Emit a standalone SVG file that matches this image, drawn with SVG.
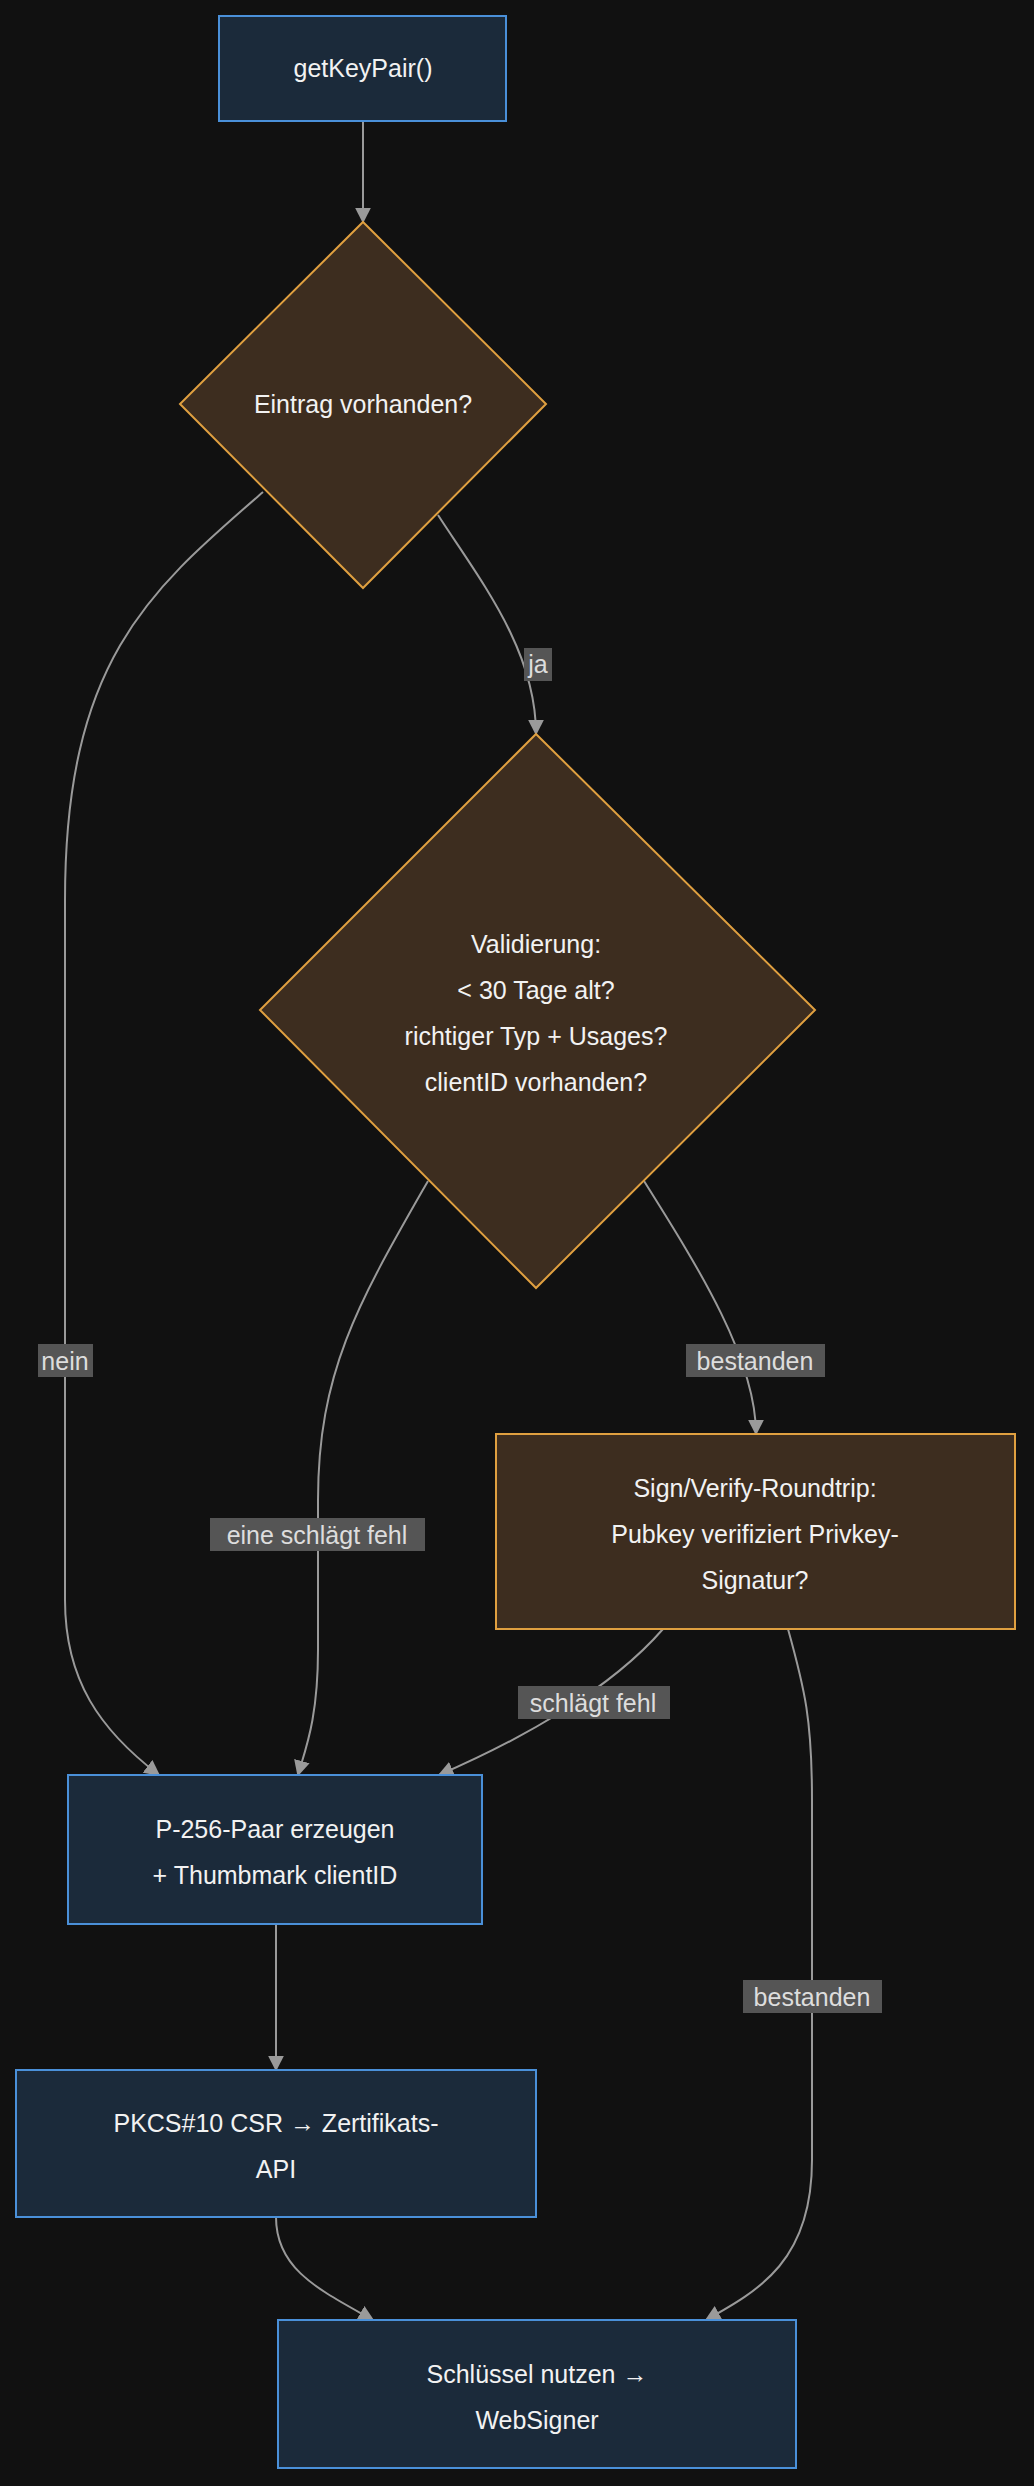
<svg xmlns="http://www.w3.org/2000/svg" width="1034" height="2486" viewBox="0 0 1034 2486">
<style>
.b{fill:#1b2a3a;stroke:#4a90d9;stroke-width:2}
.d{fill:#3d2d1f;stroke:#e0a040;stroke-width:2}
.t{font-family:"Liberation Sans",Arial,sans-serif;font-size:25px;fill:#f2f2f2;text-anchor:middle}
.e{fill:none;stroke:#9a9a9a;stroke-width:2;marker-end:url(#a)}
.lb{fill:#555}
.lt{font-family:"Liberation Sans",Arial,sans-serif;font-size:25px;fill:#ddd;text-anchor:middle}
</style>
<defs><marker id="a" viewBox="0 0 10 10" refX="9" refY="5" markerWidth="8" markerHeight="8" orient="auto-start-reverse"><path d="M0,0L10,5L0,10z" fill="#9a9a9a"/></marker></defs>
<rect width="1034" height="2486" fill="#111"/>
<g id="connectors">
<path class="e" d="M363,121V222"/>
<path class="e" d="M263,492C150,590 65,660 65,900V1600C65,1680 100,1730 159,1775"/>
<path class="e" d="M438,515C480,580 536,650 536,734"/>
<path class="e" d="M428,1181C360,1300 318,1370 318,1500V1650C318,1720 305,1750 298,1775"/>
<path class="e" d="M644,1181C700,1270 756,1360 756,1434"/>
<path class="e" d="M663,1629C610,1690 520,1740 439,1775"/>
<path class="e" d="M788,1629C805,1690 812,1720 812,1800V2160C812,2260 760,2290 706,2320"/>
<path class="e" d="M276,1924V2070"/>
<path class="e" d="M276,2217C276,2270 320,2290 373,2320"/>
<rect class="lb" x="38" y="1344" width="55" height="33"/><text class="lt" x="65" y="1370">nein</text>
<rect class="lb" x="524" y="648" width="28" height="33"/><text class="lt" x="538" y="673">ja</text>
<rect class="lb" x="210" y="1518" width="215" height="33"/><text class="lt" x="317" y="1544">eine schlägt fehl</text>
<rect class="lb" x="686" y="1344" width="139" height="33"/><text class="lt" x="755" y="1370">bestanden</text>
<rect class="lb" x="518" y="1686" width="152" height="33"/><text class="lt" x="593" y="1712">schlägt fehl</text>
<rect class="lb" x="743" y="1980" width="139" height="33"/><text class="lt" x="812" y="2006">bestanden</text>
</g>
<g id="n1"><rect class="b" x="219" y="16" width="287" height="105"/><text class="t" x="363" y="77">getKeyPair()</text></g>
<g id="n2"><path class="d" d="M363,222L546,404L363,588L180,404z"/><text class="t" x="363" y="413">Eintrag vorhanden?</text></g>
<g id="n3"><path class="d" d="M536,734L815,1010L536,1288L260,1010z"/><text class="t" x="536" y="953">Validierung:</text><text class="t" x="536" y="999">&lt; 30 Tage alt?</text><text class="t" x="536" y="1045">richtiger Typ + Usages?</text><text class="t" x="536" y="1091">clientID vorhanden?</text></g>
<g id="n4"><rect class="d" x="496" y="1434" width="519" height="195"/><text class="t" x="755" y="1497">Sign/Verify-Roundtrip:</text><text class="t" x="755" y="1543">Pubkey verifiziert Privkey-</text><text class="t" x="755" y="1589">Signatur?</text></g>
<g id="n5"><rect class="b" x="68" y="1775" width="414" height="149"/><text class="t" x="275" y="1838">P-256-Paar erzeugen</text><text class="t" x="275" y="1884">+ Thumbmark clientID</text></g>
<g id="n6"><rect class="b" x="16" y="2070" width="520" height="147"/><text class="t" x="276" y="2132">PKCS#10 CSR → Zertifikats-</text><text class="t" x="276" y="2178">API</text></g>
<g id="n7"><rect class="b" x="278" y="2320" width="518" height="148"/><text class="t" x="537" y="2383">Schlüssel nutzen →</text><text class="t" x="537" y="2429">WebSigner</text></g>
</svg>
